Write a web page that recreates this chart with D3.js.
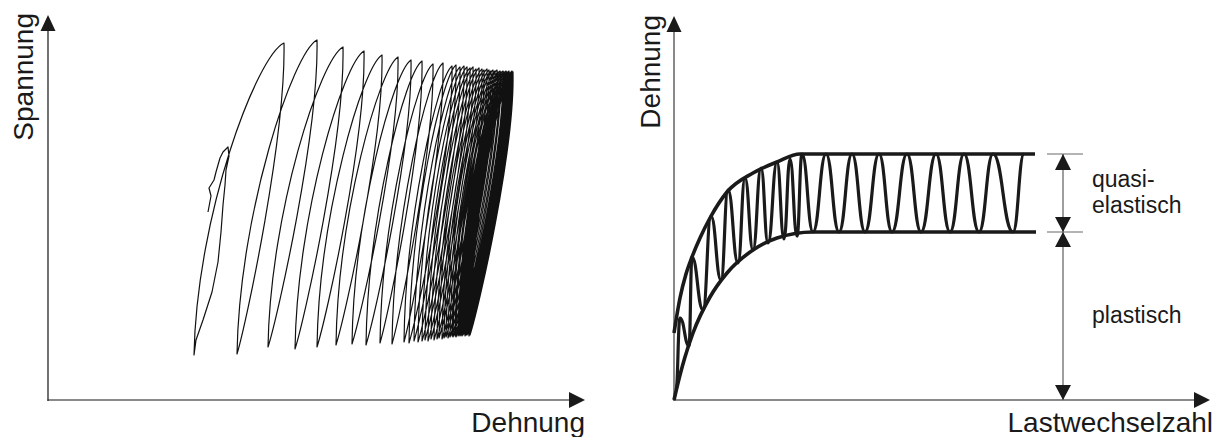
<!DOCTYPE html>
<html>
<head>
<meta charset="utf-8">
<script src="https://cdn.jsdelivr.net/npm/d3@7"></script>
<style>
  body { margin: 0; background: #fff; }
  svg { display: block; }
  text { font-family: "Liberation Sans", Arial, sans-serif; fill: #1a1a1a; }
</style>
</head>
<body>
<div id="chart"></div>
<script>
// ---- left panel: Spannung over Dehnung (arbitrary units, origin at axis corner)
// first loading squiggle
const startX = [160, 163, 161, 166, 168, 172, 175, 180, 181, 178, 177, 175, 173, 170, 164, 155, 148];
const startY = [188, 204, 212, 220, 228, 242, 248, 253, 244, 230, 215, 195, 168, 138, 108, 80, 60];
// loop reversal points: bottom (min stress) and top (max stress) of each cycle
const loopBottomX = [146, 189, 220, 247, 269, 288, 304, 318, 332, 344,
                     356, 361, 366, 370, 374, 377, 380, 383, 386, 389, 391, 394, 396, 398,
                     400, 402, 404, 405, 407, 408, 410, 411, 412, 413, 414, 415, 416, 417,
                     417, 418, 419, 419, 420, 421, 421, 422, 422];
const loopBottomY = [45, 46, 53, 51, 53, 55, 56, 55, 57, 56,
                     58, 57, 59, 58, 59, 60, 59, 61, 60, 61, 62, 61, 62, 63,
                     62, 63, 64, 63, 64, 63, 64, 65, 64, 65, 64, 65, 66, 65,
                     64, 65, 66, 65, 66, 65, 64, 65, 66];
const loopTopX = [236, 269, 295, 316, 334, 350, 363, 374, 385, 395,
                  404, 408, 412, 416, 419, 422, 425, 428, 431, 434, 436, 439, 441, 443,
                  445, 447, 449, 450, 452, 453, 455, 456, 457, 458, 459, 460, 461, 461,
                  462, 463, 463, 464, 464, 465, 465, 465];
const loopTopY = [357, 360, 353, 349, 345, 343, 340, 339, 336, 337,
                  334, 335, 333, 334, 333, 332, 333, 331, 332, 331, 330, 331, 330, 329,
                  330, 329, 330, 328, 329, 328, 329, 328, 327, 329, 328, 327, 328, 329,
                  327, 328, 327, 328, 329, 327, 328, 328];

// ---- right panel: Dehnung over Lastwechselzahl
const upperN = [0, 6, 12, 18, 26, 36, 53, 79, 103, 126, 361];
const upperE = [67, 102, 126, 143, 162, 182, 208, 227, 238, 246, 246];
const lowerN = [0, 6, 11, 19, 36, 53, 79, 103, 139, 362];
const lowerE = [0, 25, 43, 67, 103, 127, 150, 162, 168, 168];
// turning points of the strain signal
const oscN = [2, 6, 15, 18, 29, 37, 47, 54, 64, 71, 79, 87, 94, 103, 110, 116, 123, 128,
              139, 152, 165, 178, 191, 205, 218, 233, 247, 262, 276, 290, 305, 319, 339, 350];
const oscE = [10, 82, 54, 143, 90, 184, 120, 210, 137, 222, 150, 232, 157, 238, 161, 241, 164, 246,
              168, 246, 168, 246, 168, 246, 168, 246, 168, 246, 168, 246, 168, 246, 168, 246];
const levels = [0, 168, 246];   // plastisch / quasi-elastisch split
const dimN = 389;

const W = 1220, H = 437;
const svg = d3.select('#chart').append('svg').attr('width', W).attr('height', H);

const xL = d3.scaleLinear().domain([0, 537]).range([48, 585]);
const yL = d3.scaleLinear().domain([0, 385]).range([400, 15]);
const xR = d3.scaleLinear().domain([0, 536]).range([674, 1210]);
const yR = d3.scaleLinear().domain([0, 384]).range([400, 16]);

function tri(x, y, dir, len, half){
  let pts;
  if(dir==='up') pts = [[x,y],[x-half,y+len],[x+half,y+len]];
  else if(dir==='down') pts = [[x,y],[x-half,y-len],[x+half,y-len]];
  else pts = [[x,y],[x-len,y-half],[x-len,y+half]];
  svg.append('path').attr('d', 'M'+pts.join('L')+'Z').attr('fill', '#1a1a1a');
}

function axes(xs, ys, yColor){
  const x0 = xs.range()[0], x1 = xs.range()[1];
  const y0 = ys.range()[0], y1 = ys.range()[1];
  svg.append('line').attr('x1', x0-0.5).attr('x2', x1-15).attr('y1', y0).attr('y2', y0)
    .attr('stroke', '#8a8a8a').attr('stroke-width', 2);
  svg.append('line').attr('x1', x0).attr('x2', x0).attr('y1', y0+1).attr('y2', y1+14)
    .attr('stroke', yColor).attr('stroke-width', 1.3);
  tri(x0, y1, 'up', 16, 7.5);
  tri(x1, y0, 'right', 16, 8);
}

// ---- left panel
axes(xL, yL, '#262626');

const p = d3.path();
p.moveTo(xL(startX[0]), yL(startY[0]));
for(let i=1;i<startX.length;i++) p.lineTo(xL(startX[i]), yL(startY[i]));
p.lineTo(xL(loopBottomX[0]), yL(loopBottomY[0]));
for(let i=0;i<loopTopX.length;i++){
  const bx = xL(loopBottomX[i]), by = yL(loopBottomY[i]);
  const tx = xL(loopTopX[i]), ty = yL(loopTopY[i]);
  const nx = xL(loopBottomX[i+1]), ny = yL(loopBottomY[i+1]);
  const dx = tx-bx, h = by-ty;
  // loading: steep at first, then leaning over into the top
  p.bezierCurveTo(bx+0.03*dx, by-0.45*h, tx-0.3*dx, ty+0.04*h, tx, ty);
  // unloading: drops straight down first, then leans back to the bottom
  const du = tx-nx, h2 = ny-ty;
  p.bezierCurveTo(tx+0.04*du, ty+0.3*h2, nx+0.2*du, ny-0.1*h2, nx, ny);
}
svg.append('path').attr('d', p.toString())
  .attr('fill', 'none').attr('stroke', '#111').attr('stroke-width', 1.2)
  .attr('stroke-linejoin', 'round');

svg.append('text').attr('transform', 'translate(33,13) rotate(-90)')
  .attr('text-anchor', 'end').attr('font-size', 28).text('Spannung');
svg.append('text').attr('x', 585).attr('y', 432)
  .attr('text-anchor', 'end').attr('font-size', 28).text('Dehnung');

// ---- right panel
axes(xR, yR, '#4a4a4a');

const env = (xs, ys) => d3.line().x(d => xR(d[0])).y(d => yR(d[1])).curve(d3.curveMonotoneX)(d3.zip(xs, ys));
svg.append('path').attr('d', env(upperN, upperE))
  .attr('fill', 'none').attr('stroke', '#1a1a1a').attr('stroke-width', 3.6);
svg.append('path').attr('d', env(lowerN, lowerE))
  .attr('fill', 'none').attr('stroke', '#1a1a1a').attr('stroke-width', 3.6);

// strain signal: flat tangents at each turning point, steep flanks
const q = d3.path();
q.moveTo(xR(oscN[0]), yR(oscE[0]));
for(let i=1;i<oscN.length;i++){
  const x0 = xR(oscN[i-1]), y0 = yR(oscE[i-1]);
  const x1 = xR(oscN[i]), y1 = yR(oscE[i]);
  const k = 0.48*(x1-x0);
  q.bezierCurveTo(x0+k, y0, x1-k, y1, x1, y1);
}
svg.append('path').attr('d', q.toString())
  .attr('fill', 'none').attr('stroke', '#1a1a1a').attr('stroke-width', 3.2);

// dimension line
const dx0 = xR(dimN);
svg.append('line').attr('x1', dx0).attr('x2', dx0).attr('y1', yR(levels[2])).attr('y2', yR(levels[0]))
  .attr('stroke', '#6a6a6a').attr('stroke-width', 1.3);
[levels[1], levels[2]].forEach(v => {
  svg.append('line').attr('x1', xR(dimN-16)).attr('x2', xR(dimN+20)).attr('y1', yR(v)).attr('y2', yR(v))
    .attr('stroke', '#6a6a6a').attr('stroke-width', 1.2);
});
tri(dx0, yR(levels[2]), 'up', 16, 8);
tri(dx0, yR(levels[1]), 'down', 15, 8);
tri(dx0, yR(levels[1]), 'up', 15, 8);
tri(dx0, yR(levels[0]), 'down', 15, 8);

const lx = xR(dimN+29);
svg.append('text').attr('x', lx).attr('y', 187).attr('font-size', 23).text('quasi-');
svg.append('text').attr('x', lx).attr('y', 213).attr('font-size', 23).text('elastisch');
svg.append('text').attr('x', lx).attr('y', 323).attr('font-size', 23).text('plastisch');

svg.append('text').attr('transform', 'translate(660,15) rotate(-90)')
  .attr('text-anchor', 'end').attr('font-size', 28).text('Dehnung');
svg.append('text').attr('x', 1213).attr('y', 432)
  .attr('text-anchor', 'end').attr('font-size', 28).text('Lastwechselzahl');
</script>
</body>
</html>
